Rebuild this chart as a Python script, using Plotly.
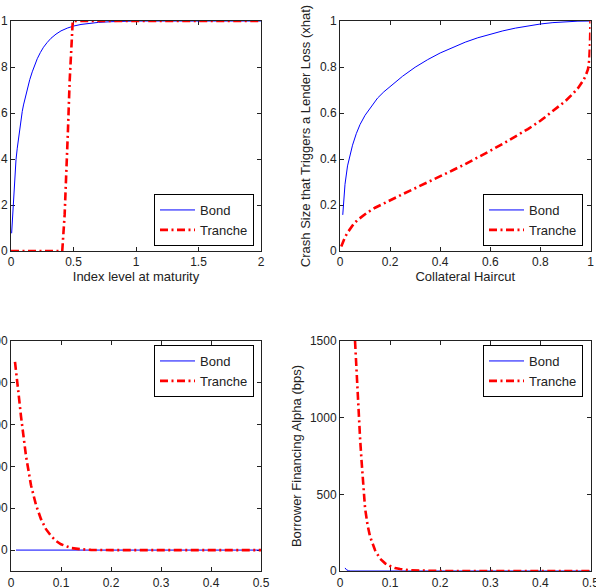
import plotly.graph_objects as go

# ---------------- data ----------------
# Panel 1 (top-left): Index level at maturity
p1_bond_x = [0.005, 0.01, 0.016, 0.023, 0.03, 0.035, 0.04, 0.05, 0.06, 0.07, 0.08, 0.09, 0.1, 0.115, 0.13,
             0.15, 0.17, 0.19, 0.21, 0.235, 0.26, 0.29, 0.32, 0.36, 0.4, 0.45, 0.5, 0.56, 0.63, 0.7, 0.8, 0.9,
             1.0, 1.5, 2.0]
p1_bond_y = [0.077, 0.13, 0.195, 0.27, 0.335, 0.368, 0.397, 0.447, 0.49, 0.53, 0.575, 0.607, 0.635, 0.672, 0.705,
             0.745, 0.779, 0.809, 0.836, 0.863, 0.886, 0.907, 0.925, 0.943, 0.957, 0.969, 0.978, 0.985, 0.99,
             0.994, 0.997, 0.999, 1.0, 1.0, 1.0]
p1_tr_x = [0.0, 0.1, 0.2, 0.3, 0.41, 0.429, 0.443, 0.456, 0.469, 0.483, 0.494, 0.5, 1.0, 1.5, 2.0]
p1_tr_y = [0.0, 0.0, 0.0, 0.0, 0.0, 0.157, 0.33, 0.53, 0.736, 0.91, 1.0, 1.0, 1.0, 1.0, 1.0]

# Panel 2 (top-right): Collateral Haircut
p2_bond_x = [0.011, 0.015, 0.02, 0.03, 0.04, 0.05, 0.065, 0.08, 0.1, 0.125, 0.15, 0.175, 0.2, 0.25, 0.3, 0.35,
             0.4, 0.45, 0.5, 0.55, 0.6, 0.65, 0.7, 0.75, 0.8, 0.85, 0.9, 0.95, 1.0]
p2_bond_y = [0.157, 0.23, 0.29, 0.37, 0.42, 0.46, 0.51, 0.55, 0.59, 0.63, 0.665, 0.692, 0.715, 0.76, 0.799,
             0.832, 0.861, 0.886, 0.908, 0.927, 0.943, 0.957, 0.969, 0.979, 0.987, 0.993, 0.997, 0.9993, 1.0]
p2_tr_x = [0.005, 0.01, 0.02, 0.03, 0.04, 0.055, 0.07, 0.09, 0.11, 0.14, 0.17, 0.2, 0.25, 0.3, 0.35, 0.4, 0.45,
           0.5, 0.55, 0.6, 0.65, 0.7, 0.75, 0.8, 0.85, 0.9, 0.93, 0.95, 0.97, 0.98, 0.99, 0.995, 0.998, 1.0]
p2_tr_y = [0.02, 0.035, 0.06, 0.08, 0.097, 0.118, 0.135, 0.153, 0.168, 0.188, 0.205, 0.221, 0.247, 0.273, 0.298,
           0.324, 0.351, 0.378, 0.406, 0.436, 0.466, 0.497, 0.53, 0.566, 0.607, 0.652, 0.684, 0.708, 0.74, 0.76,
           0.79, 0.83, 0.9, 1.0]

# Panel 3 (bottom-left)
p3_bond_x = [0.01, 0.1, 0.2, 0.3, 0.4, 0.5]
p3_bond_y = [0, 0, 0, 0, 0, 0]
p3_tr_x = [0.008, 0.01, 0.015, 0.02, 0.025, 0.03, 0.04, 0.05, 0.06, 0.07, 0.08, 0.09, 0.1, 0.12, 0.14, 0.16,
           0.2, 0.3, 0.4, 0.5]
p3_tr_y = [450, 425, 375, 320, 270, 225, 155, 108, 74, 50, 34, 22, 14, 5, 2, 0.5, 0, 0, 0, 0]

# Panel 4 (bottom-right): Borrower Financing Alpha (bps)
p4_bond_x = [0.01, 0.013, 0.017, 0.02, 0.1, 0.2, 0.3, 0.4, 0.5]
p4_bond_y = [20, 8, 2, 0, 0, 0, 0, 0, 0]
p4_tr_x = [0.03, 0.032, 0.035, 0.0375, 0.04, 0.043, 0.047, 0.05, 0.055, 0.06, 0.07, 0.08, 0.09, 0.1, 0.11,
           0.12, 0.14, 0.16, 0.2, 0.3, 0.4, 0.5]
p4_tr_y = [1500, 1360, 1160, 1000, 870, 720, 500, 410, 300, 225, 135, 80, 50, 32, 20, 13, 5, 2, 0, 0, 0, 0]

# ticks
p1_xticks = [0, 0.5, 1, 1.5, 2]
p1_xlabels = ["0", "0.5", "1", "1.5", "2"]
unit_ticks = [0, 0.2, 0.4, 0.6, 0.8, 1]
unit_labels = ["0", "0.2", "0.4", "0.6", "0.8", "1"]
half_ticks = [0, 0.1, 0.2, 0.3, 0.4, 0.5]
half_labels = ["0", "0.1", "0.2", "0.3", "0.4", "0.5"]
p3_yticks = [0, 100, 200, 300, 400, 500]
p3_ylabels = ["0", "100", "200", "300", "400", "500"]
p4_yticks = [0, 500, 1000, 1500]
p4_ylabels = ["0", "500", "1000", "1500"]

series_names = ["Bond", "Tranche"]

# ---------------- style ----------------
FONT = "Liberation Sans, Arial, sans-serif"
INK = "#222222"
BLUE = "#0000ff"
RED = "#ff0000"
DASHDOT = "8px,3.5px,2px,3.5px"

W, H = 596, 588
def px_x(a, b):
    return [a / W, b / W]
def px_y(top, bottom):
    return [1 - bottom / H, 1 - top / H]

LEFT = px_x(11, 261)
RIGHT = px_x(340, 590.5)
TOP = px_y(21, 251)
BOT = px_y(341, 571)

fig = go.Figure()

panels = [
    ("x", "y", "legend", p1_bond_x, p1_bond_y, p1_tr_x, p1_tr_y),
    ("x2", "y2", "legend2", p2_bond_x, p2_bond_y, p2_tr_x, p2_tr_y),
    ("x3", "y3", "legend3", p3_bond_x, p3_bond_y, p3_tr_x, p3_tr_y),
    ("x4", "y4", "legend4", p4_bond_x, p4_bond_y, p4_tr_x, p4_tr_y),
]
for xa, ya, leg, bx, by, tx, ty in panels:
    fig.add_trace(go.Scatter(x=bx, y=by, mode="lines", name=series_names[0], xaxis=xa, yaxis=ya,
                             legend=leg, cliponaxis=False, line=dict(color=BLUE, width=1)))
    fig.add_trace(go.Scatter(x=tx, y=ty, mode="lines", name=series_names[1], xaxis=xa, yaxis=ya,
                             legend=leg, cliponaxis=False, line=dict(color=RED, width=2.6, dash=DASHDOT)))

def axis(domain, anchor, rng, tv, tt, title=None, standoff=None, labelshift=0):
    d = dict(domain=domain, anchor=anchor, range=rng, tickvals=tv, ticktext=tt, automargin=False,
             ticklabeloverflow="allow", layer="below traces", ticklabelstandoff=labelshift,
             showline=True, linecolor=INK, linewidth=1, mirror="allticks",
             ticks="inside", ticklen=4, tickcolor=INK, showgrid=False, zeroline=False,
             tickfont=dict(family=FONT, size=12, color=INK))
    if title:
        d["title"] = dict(text=title, font=dict(family=FONT, size=13, color=INK))
        if standoff is not None:
            d["title"]["standoff"] = standoff
    return d

fig.update_layout(
    width=W, height=H,
    margin=dict(l=0, r=0, t=0, b=0, autoexpand=False),
    paper_bgcolor="white", plot_bgcolor="white",
    font=dict(family=FONT, color=INK),
    xaxis=axis(LEFT, "y", [0, 2], p1_xticks, p1_xlabels, "Index level at maturity", 2),
    yaxis=axis(TOP, "x", [0, 1], unit_ticks, unit_labels),
    xaxis2=axis(RIGHT, "y2", [0, 1], unit_ticks, unit_labels, "Collateral Haircut", 2),
    yaxis2=axis(TOP, "x2", [0, 1], unit_ticks, unit_labels,
                "Crash Size that Triggers a Lender Loss (xhat)", 6),
    xaxis3=axis(LEFT, "y3", [0, 0.5], half_ticks, half_labels, labelshift=1),
    yaxis3=axis(BOT, "x3", [-50, 500], p3_yticks, p3_ylabels),
    xaxis4=axis(RIGHT, "y4", [0, 0.5], half_ticks, half_labels, labelshift=1),
    yaxis4=axis(BOT, "x4", [0, 1500], p4_yticks, p4_ylabels, "Borrower Financing Alpha (bps)", 5),
)

def legend(xr, ybound, yanchor):
    return dict(x=xr, y=ybound, xanchor="right", yanchor=yanchor,
                bgcolor="white", bordercolor="#000000", borderwidth=1,
                font=dict(family=FONT, size=13, color=INK), itemwidth=35,
                tracegroupgap=0)

fig.update_layout(
    legend=legend(254 / W, 1 - 246 / H, "bottom"),
    legend2=legend(583 / W, 1 - 246 / H, "bottom"),
    legend3=legend(254 / W, 1 - 345 / H, "top"),
    legend4=legend(583 / W, 1 - 345 / H, "top"),
)

fig.write_html("out.html")
